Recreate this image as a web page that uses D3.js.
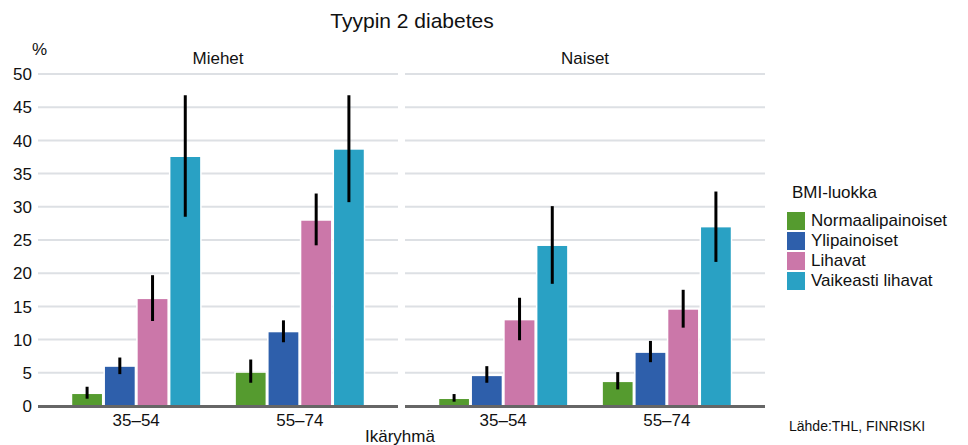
<!DOCTYPE html>
<html><head><meta charset="utf-8">
<script src="https://cdn.jsdelivr.net/npm/d3@7"></script>
<style>body{margin:0;background:#fff}svg{display:block;font-family:"Liberation Sans",Arial,sans-serif}</style>
</head><body><svg id="c" width="968" height="445"></svg>
<script>
const title = "Tyypin 2 diabetes";
const panels = ["Miehet", "Naiset"];
const ageGroups = ["35–54", "55–74"];
const series = ["Normaalipainoiset", "Ylipainoiset", "Lihavat", "Vaikeasti lihavat"];
const colors = ["#559b2f", "#2e5fab", "#cb77a9", "#29a1c4"];
const yTicks = [0, 5, 10, 15, 20, 25, 30, 35, 40, 45, 50];

// values[panel][series] = [35–54, 55–74]
const miehetValues = [[1.8, 5.0], [5.9, 11.1], [16.1, 27.9], [37.5, 38.6]];
const miehetLow    = [[1.1, 3.5], [4.8, 9.6], [12.8, 24.2], [28.5, 30.7]];
const miehetHigh   = [[2.9, 7.0], [7.3, 12.9], [19.7, 32.0], [46.8, 46.8]];
const naisetValues = [[1.05, 3.6], [4.5, 8.0], [12.9, 14.5], [24.1, 26.9]];
const naisetLow    = [[0.65, 2.5], [3.5, 6.6], [9.9, 11.8], [18.4, 21.7]];
const naisetHigh   = [[1.8, 5.1], [6.0, 9.8], [16.3, 17.5], [30.1, 32.3]];

const valueSets = [miehetValues, naisetValues];
const lowSets = [miehetLow, naisetLow];
const highSets = [miehetHigh, naisetHigh];

const svg = d3.select("#c");
const y = d3.scaleLinear().domain([0, 50]).range([406, 74]);
const panelX = d3.scaleBand().domain(panels).range([38, 765]).paddingInner(7/367).paddingOuter(0);

svg.append("text").attr("x", 412).attr("y", 28).attr("text-anchor", "middle")
  .attr("font-size", 21).attr("fill", "#111").text(title);

svg.append("text").attr("x", 32).attr("y", 55).attr("font-size", 17).attr("fill", "#111").text("%");

svg.append("g").selectAll("text").data(yTicks).join("text")
  .attr("x", 32).attr("y", d => y(d)).attr("dy", "0.36em").attr("text-anchor", "end")
  .attr("font-size", 17).attr("fill", "#111").text(d => d);

panels.forEach((p, pi) => {
  const x0 = panelX(p), w = panelX.bandwidth();
  const g = svg.append("g");
  const gx = d3.scaleBand().domain(ageGroups).range([x0, x0 + w]).paddingInner(0.2).paddingOuter(0.2);
  const sx = d3.scaleBand().domain(series).range([0, gx.bandwidth()]).paddingInner(0);

  g.selectAll("line.grid").data(yTicks.filter(d => d > 0)).join("line")
    .attr("x1", x0).attr("x2", x0 + w).attr("y1", d => y(d)).attr("y2", d => y(d))
    .attr("stroke", "#dde0e4").attr("stroke-width", 2);

  g.append("text").attr("x", x0 + w / 2).attr("y", 64).attr("text-anchor", "middle")
    .attr("font-size", 17).attr("fill", "#111").text(p);

  const recs = [];
  series.forEach((s, si) => ageGroups.forEach((a, ai) => {
    recs.push({s, si, a, v: valueSets[pi][si][ai], lo: lowSets[pi][si][ai], hi: highSets[pi][si][ai]});
  }));

  g.selectAll("rect.halo").data(recs).join("rect")
    .attr("x", d => gx(d.a) + sx(d.s)).attr("width", sx.bandwidth())
    .attr("y", d => y(d.v) - 1).attr("height", d => y(0) - y(d.v) + 1).attr("fill", "#fff");
  g.selectAll("rect.bar").data(recs).join("rect")
    .attr("x", d => gx(d.a) + sx(d.s) + 1.5).attr("width", sx.bandwidth() - 3)
    .attr("y", d => y(d.v)).attr("height", d => y(0) - y(d.v)).attr("fill", d => colors[d.si]);
  g.selectAll("line.err").data(recs).join("line")
    .attr("x1", d => gx(d.a) + sx(d.s) + sx.bandwidth() / 2).attr("x2", d => gx(d.a) + sx(d.s) + sx.bandwidth() / 2)
    .attr("y1", d => y(d.lo)).attr("y2", d => y(d.hi))
    .attr("stroke", "#000").attr("stroke-width", 3);

  g.append("line").attr("x1", x0).attr("x2", x0 + w).attr("y1", y(0) + 0.5).attr("y2", y(0) + 0.5)
    .attr("stroke", "#666").attr("stroke-width", 3);

  g.selectAll("text.tick").data(ageGroups).join("text")
    .attr("x", d => gx(d) + gx.bandwidth() / 2).attr("y", 426).attr("text-anchor", "middle")
    .attr("font-size", 17).attr("fill", "#111").text(d => d);
});

svg.append("text").attr("x", 400).attr("y", 442).attr("text-anchor", "middle")
  .attr("font-size", 17).attr("fill", "#111").text("Ikäryhmä");

const lg = svg.append("g");
lg.append("text").attr("x", 792).attr("y", 198).attr("font-size", 17).attr("fill", "#111").text("BMI-luokka");
series.forEach((s, i) => {
  lg.append("rect").attr("x", 787).attr("y", 212 + i * 20).attr("width", 18).attr("height", 18).attr("fill", colors[i]);
  lg.append("text").attr("x", 811).attr("y", 226 + i * 20).attr("font-size", 17).attr("fill", "#111").text(s);
});

svg.append("text").attr("x", 789).attr("y", 431).attr("font-size", 14).attr("fill", "#111")
  .text("Lähde:THL, FINRISKI");
</script></body></html>
